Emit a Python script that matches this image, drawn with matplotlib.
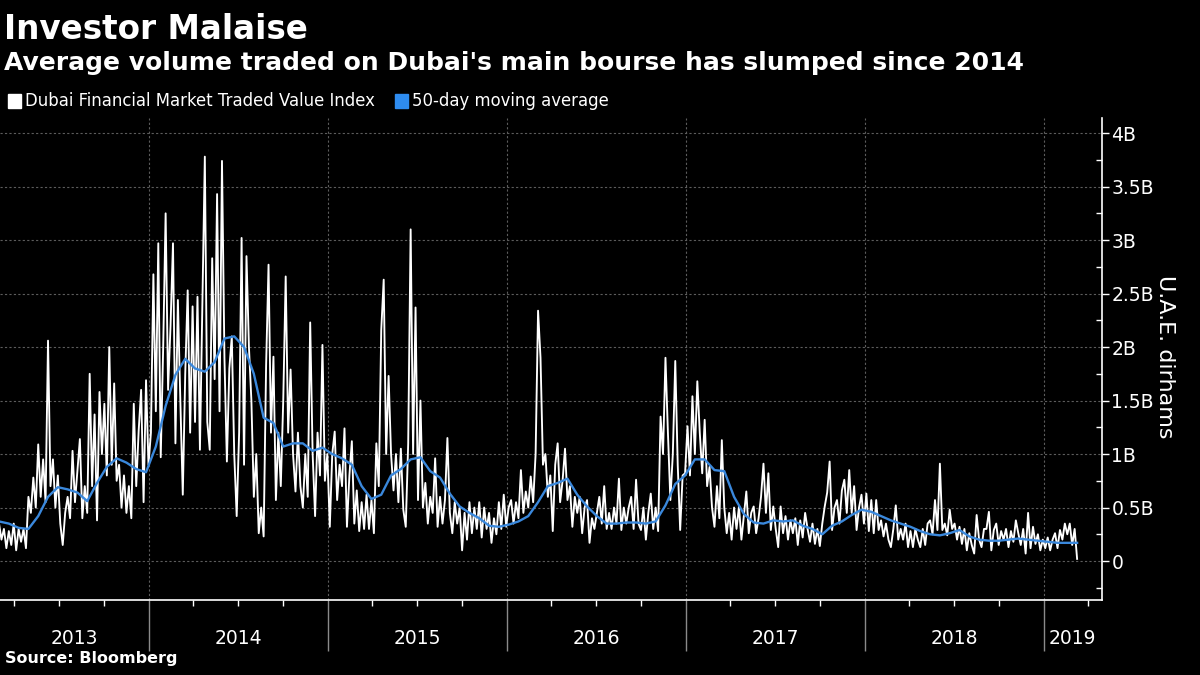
import matplotlib
matplotlib.use('Agg')
import matplotlib.pyplot as plt
import matplotlib.dates as mdates
from matplotlib.patches import Rectangle
from matplotlib.ticker import FuncFormatter, MultipleLocator
import pandas as pd

# Dubai Financial Market Traded Value Index, billions of dirhams,
# read off the chart every 5 days starting 1 March 2013
traded_value = [
    0.35, 0.2, 0.3, 0.12, 0.28, 0.15, 0.35, 0.1, 0.3, 0.18,
    0.3, 0.12, 0.6, 0.45, 0.78, 0.5, 1.09, 0.6, 0.95, 0.55,
    2.06, 0.7, 0.95, 0.5, 0.8, 0.35, 0.15, 0.45, 0.6, 0.4,
    1.03, 0.55, 0.85, 1.14, 0.4, 0.7, 0.45, 1.75, 0.7, 1.37,
    0.38, 1.58, 1.0, 1.47, 0.8, 2.0, 0.9, 1.66, 0.75, 0.9,
    0.5, 0.8, 0.45, 0.7, 0.4, 1.47, 0.7, 1.22, 1.6, 0.55,
    1.69, 0.9, 1.2, 2.68, 1.4, 2.97, 0.97, 2.0, 3.25, 1.6,
    2.2, 2.97, 1.1, 2.44, 1.5, 0.62, 1.75, 2.53, 1.2, 2.38,
    1.3, 2.47, 1.04, 2.4, 3.78, 1.3, 1.04, 2.83, 1.7, 3.43,
    1.4, 3.74, 1.9, 0.93, 1.8, 2.1, 1.0, 0.42, 1.2, 3.02,
    0.9, 2.85, 2.0, 1.5, 0.6, 1.0, 0.26, 0.5, 0.23, 1.82,
    2.77, 1.2, 1.91, 0.57, 1.2, 0.7, 1.5, 2.66, 1.2, 1.79,
    1.0, 0.65, 1.2, 0.7, 0.5, 1.0, 0.6, 2.23, 1.0, 0.42,
    1.2, 0.8, 2.02, 0.75, 1.0, 0.32, 1.0, 1.21, 0.57, 0.9,
    0.7, 1.24, 0.32, 0.8, 1.12, 0.35, 0.66, 0.28, 0.55, 0.3,
    0.62, 0.3, 0.57, 0.26, 1.1, 0.7, 2.16, 2.63, 1.0, 1.73,
    1.0, 0.66, 1.0, 0.55, 1.05, 0.48, 0.32, 1.1, 3.1, 1.0,
    2.37, 0.57, 1.5, 0.5, 0.73, 0.35, 0.6, 0.45, 0.96, 0.32,
    0.6, 0.35, 0.57, 1.15, 0.45, 0.26, 0.55, 0.35, 0.5, 0.1,
    0.45, 0.2, 0.55, 0.26, 0.5, 0.3, 0.55, 0.22, 0.5, 0.3,
    0.45, 0.17, 0.4, 0.25, 0.55, 0.3, 0.62, 0.32, 0.5, 0.57,
    0.35, 0.55, 0.4, 0.85, 0.45, 0.65, 0.5, 0.79, 0.55, 1.0,
    2.34, 1.9, 0.9, 1.0, 0.6, 0.8, 0.28, 0.9, 1.1, 0.55,
    0.75, 1.05, 0.57, 0.7, 0.32, 0.6, 0.45, 0.6, 0.26, 0.5,
    0.57, 0.17, 0.4, 0.3, 0.45, 0.6, 0.35, 0.7, 0.3, 0.45,
    0.3, 0.5, 0.35, 0.77, 0.29, 0.5, 0.35, 0.5, 0.6, 0.3,
    0.76, 0.35, 0.29, 0.5, 0.2, 0.45, 0.63, 0.3, 0.5, 0.28,
    1.35, 1.0, 1.9, 1.2, 0.57, 1.0, 1.87, 0.9, 0.29, 0.8,
    0.82, 1.26, 0.8, 1.54, 1.0, 1.68, 1.2, 0.82, 1.32, 0.7,
    0.88, 0.5, 0.32, 0.7, 0.4, 1.13, 0.5, 0.26, 0.45, 0.2,
    0.5, 0.3, 0.51, 0.2, 0.42, 0.65, 0.26, 0.45, 0.51, 0.26,
    0.4, 0.6, 0.91, 0.45, 0.82, 0.29, 0.51, 0.3, 0.13, 0.51,
    0.26, 0.42, 0.2, 0.38, 0.26, 0.4, 0.15, 0.38, 0.22, 0.45,
    0.3, 0.18, 0.35, 0.16, 0.3, 0.14, 0.35, 0.51, 0.64, 0.93,
    0.29, 0.5, 0.57, 0.35, 0.66, 0.76, 0.45, 0.85, 0.45, 0.7,
    0.29, 0.5, 0.62, 0.35, 0.63, 0.28, 0.57, 0.26, 0.57, 0.29,
    0.38, 0.23, 0.35, 0.2, 0.13, 0.3, 0.52, 0.2, 0.3, 0.2,
    0.35, 0.13, 0.28, 0.13, 0.3, 0.2, 0.13, 0.3, 0.15, 0.35,
    0.38, 0.25, 0.57, 0.29, 0.91, 0.29, 0.35, 0.24, 0.48, 0.3,
    0.35, 0.2, 0.32, 0.16, 0.3, 0.1, 0.26, 0.15, 0.07, 0.43,
    0.2, 0.13, 0.3, 0.3, 0.46, 0.1, 0.29, 0.35, 0.15, 0.28,
    0.2, 0.3, 0.13, 0.28, 0.18, 0.38, 0.26, 0.15, 0.3, 0.07,
    0.45, 0.12, 0.32, 0.16, 0.25, 0.1, 0.2, 0.12, 0.22, 0.1,
    0.2, 0.26, 0.12, 0.29, 0.2, 0.35, 0.25, 0.35, 0.15, 0.3,
    0.02,
]

# 50-day moving average, read every 20 days from the same start
moving_avg = [
    0.37, 0.35, 0.31, 0.30, 0.42, 0.60, 0.69, 0.67, 0.64, 0.56,
    0.73, 0.88, 0.96, 0.92, 0.86, 0.83, 1.07, 1.45, 1.74, 1.89,
    1.80, 1.77, 1.86, 2.08, 2.10, 2.00, 1.75, 1.34, 1.29, 1.07,
    1.10, 1.10, 1.03, 1.06, 1.00, 0.96, 0.90, 0.70, 0.58, 0.62,
    0.80, 0.86, 0.95, 0.97, 0.84, 0.78, 0.63, 0.51, 0.45, 0.40,
    0.33, 0.32, 0.34, 0.37, 0.42, 0.55, 0.70, 0.73, 0.77, 0.62,
    0.51, 0.42, 0.35, 0.35, 0.36, 0.36, 0.35, 0.37, 0.52, 0.72,
    0.80, 0.95, 0.95, 0.85, 0.84, 0.60, 0.44, 0.36, 0.35, 0.38,
    0.37, 0.38, 0.33, 0.30, 0.25, 0.33, 0.37, 0.43, 0.48, 0.46,
    0.42, 0.38, 0.35, 0.32, 0.28, 0.25, 0.24, 0.26, 0.29, 0.23,
    0.20, 0.19, 0.19, 0.20, 0.21, 0.20, 0.19, 0.18, 0.17, 0.17,
    0.17,
]

value_dates = pd.date_range('2013-03-01', periods=len(traded_value), freq='5D')
avg_dates = pd.date_range('2013-03-01', periods=len(moving_avg), freq='20D')
years = [2013, 2014, 2015, 2016, 2017, 2018, 2019]

x_start = pd.Timestamp('2013-03-03')
x_end = pd.Timestamp('2019-04-29')

WHITE = '#ffffff'
BLUE = '#3a88dc'
GRID = '#5c5c5c'

plt.rcParams['font.family'] = ['DejaVu Sans']

fig = plt.figure(figsize=(12, 6.75), dpi=100, facecolor='black')
ax = fig.add_axes([0.0, 0.111, 0.918, 0.714], facecolor='black')

ax.plot(value_dates, traded_value, color=WHITE, linewidth=1.35, zorder=3)
ax.plot(avg_dates, moving_avg, color=BLUE, linewidth=1.7, zorder=4)

ax.set_xlim(x_start, x_end)
ax.set_ylim(-0.365, 4.14)

# y axis on the right
ax.yaxis.tick_right()
ax.yaxis.set_major_locator(MultipleLocator(0.5))
ax.yaxis.set_minor_locator(MultipleLocator(0.25))
ax.yaxis.set_major_formatter(FuncFormatter(lambda v, p: '0' if abs(v) < 1e-9 else f'{v:g}B'))
ax.tick_params(axis='y', which='major', direction='out', length=5, width=1,
               colors=WHITE, labelsize=13.5, pad=2)
ax.tick_params(axis='y', which='minor', direction='in', length=4, width=1, colors=WHITE)
ax.set_yticks([t for t in ax.get_yticks() if t >= 0 and t <= 4])

# x axis: year boundaries and quarter ticks
ax.xaxis.set_major_locator(mdates.YearLocator())
ax.xaxis.set_minor_locator(mdates.MonthLocator(bymonth=[1, 4, 7, 10]))
ax.tick_params(axis='x', which='major', direction='out', length=37, width=1,
               color='#8a8a8a', labelbottom=False)
ax.tick_params(axis='x', which='minor', direction='out', length=4, width=1, color=WHITE)

ax.grid(True, which='major', axis='both', color=GRID, linestyle=(0, (2, 2)), linewidth=0.8)
ax.set_axisbelow(True)

for side in ['left', 'top']:
    ax.spines[side].set_visible(False)
for side in ['bottom', 'right']:
    ax.spines[side].set_color(WHITE)
    ax.spines[side].set_linewidth(1.2)

# year labels centred in the visible part of each year
for yr in years:
    a = max(pd.Timestamp(f'{yr}-01-01'), x_start)
    b = min(pd.Timestamp(f'{yr + 1}-01-01'), x_end)
    mid = a + (b - a) / 2
    ax.text(mid, -0.079, str(yr), transform=ax.get_xaxis_transform(),
            ha='center', va='center', color=WHITE, fontsize=13.5)

fig.text(0.971, 0.471, 'U.A.E. dirhams', rotation=270, ha='center', va='center',
         color=WHITE, fontsize=16)

fig.text(0.003, 0.942, 'Investor Malaise', color=WHITE, fontsize=23.5,
         fontweight='bold', va='baseline')
fig.text(0.003, 0.896, "Average volume traded on Dubai's main bourse has slumped since 2014",
         color=WHITE, fontsize=18, fontweight='bold', va='baseline')
fig.text(0.004, 0.018, 'Source: Bloomberg', color=WHITE, fontsize=11.5,
         fontweight='bold', va='baseline')

# legend
leg_y = 1 - 101 / 675
sq_w, sq_h = 13 / 1200, 13 / 675
fig.patches.append(Rectangle((8 / 1200, leg_y - sq_h / 2), sq_w, sq_h,
                             transform=fig.transFigure, color=WHITE))
t1 = fig.text(25 / 1200, leg_y, 'Dubai Financial Market Traded Value Index',
              color=WHITE, fontsize=11.9, va='center')
fig.canvas.draw()
end_x = t1.get_window_extent().x1 / 1200
fig.patches.append(Rectangle((end_x + 20 / 1200, leg_y - sq_h / 2), sq_w, sq_h,
                             transform=fig.transFigure, color='#2e8cf0'))
fig.text(end_x + 37 / 1200, leg_y, '50-day moving average',
         color=WHITE, fontsize=11.9, va='center')

fig.savefig('out.png', dpi=100, facecolor='black')
